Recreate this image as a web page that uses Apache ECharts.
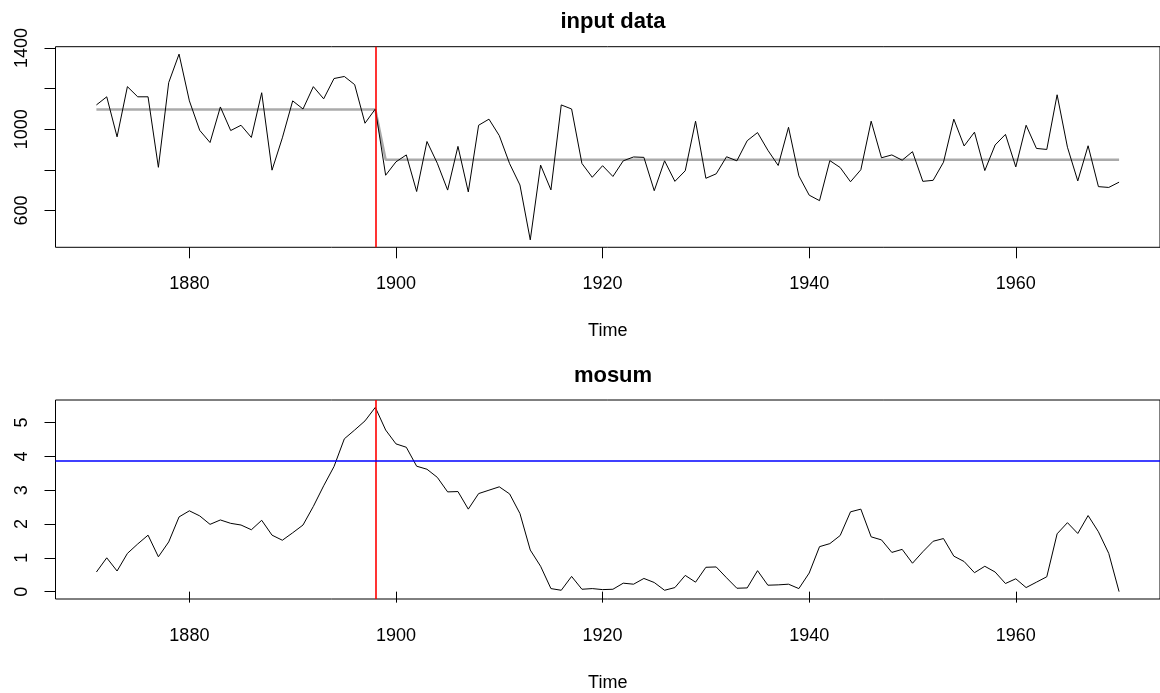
<!DOCTYPE html>
<html><head><meta charset="utf-8">
<script src="https://cdn.jsdelivr.net/npm/echarts@6/dist/echarts.min.js"></script>
<style>html,body{margin:0;padding:0;background:#fff}#c{width:1160px;height:693px}</style>
</head><body><div id="c"></div>
<script>
const panelTitles = ['input data', 'mosum'];
const xAxisTitle = 'Time';
const firstYear = 1871;
const nile = [1120,1160,963,1210,1160,1160,813,1230,1370,1140,
  995,935,1110,994,1020,960,1180,799,958,1140,
  1100,1210,1150,1250,1260,1220,1030,1100,774,840,
  874,694,940,833,701,916,692,1020,1050,969,
  831,726,456,824,702,1120,1100,832,764,821,
  768,845,864,862,698,845,744,796,1040,759,
  781,865,845,944,984,897,822,1010,771,676,
  649,846,812,742,801,1040,860,874,848,890,
  744,749,838,1050,918,986,797,923,975,815,
  1020,906,901,1170,912,746,919,718,714,740];
const mosumStat = [0.58,1.00,0.61,1.13,1.41,1.67,1.03,1.47,2.21,2.39,
  2.24,1.99,2.12,2.02,1.97,1.83,2.11,1.67,1.52,1.74,
  1.97,2.52,3.13,3.70,4.52,4.78,5.05,5.45,4.78,4.37,
  4.27,3.71,3.62,3.38,2.95,2.96,2.44,2.90,3.00,3.10,
  2.89,2.31,1.23,0.75,0.09,0.04,0.45,0.07,0.09,0.06,
  0.07,0.25,0.22,0.39,0.27,0.04,0.12,0.48,0.28,0.72,
  0.73,0.41,0.10,0.11,0.62,0.19,0.20,0.22,0.09,0.55,
  1.33,1.42,1.66,2.36,2.44,1.62,1.53,1.16,1.25,0.84,
  1.18,1.49,1.57,1.05,0.89,0.56,0.75,0.58,0.24,0.38,
  0.12,0.28,0.44,1.71,2.04,1.72,2.25,1.77,1.13,0.00];
const segStartYears = [1871, 1899];
const segEndYears = [1898, 1970];
const segMeans = [1097.75, 849.97];
const changePointYear = 1898;
const criticalValue = 3.87;
const xTicks = [1880, 1900, 1920, 1940, 1960];
const topYTicks = [600, 800, 1000, 1200, 1400];
const topYLabels = [600, 1000, 1400];
const bottomYTicks = [0, 1, 2, 3, 4, 5];

const years = nile.map((_, i) => firstYear + i);
const nileData = years.map((y, i) => [y, nile[i]]);
const mosumData = years.map((y, i) => [y, mosumStat[i]]);
const fittedData = years.map(y => {
  let m = null;
  segStartYears.forEach((s, k) => { if (y >= s && y <= segEndYears[k]) m = segMeans[k]; });
  return [y, m];
});

const FONT = 'Liberation Sans';
const xMin = 1867.04, xMax = 1973.96;
const plain = v => String(v);
function xAxisDef(gi) {
  return {
    gridIndex: gi, type: 'value', min: xMin, max: xMax,
    name: xAxisTitle, nameLocation: 'middle', nameGap: 75,
    nameTextStyle: { fontFamily: FONT, fontSize: 18, color: '#000' },
    axisLine: { show: false },
    axisTick: { show: true, customValues: xTicks, length: 11, inside: false, lineStyle: { color: '#000', width: 1 } },
    axisLabel: { show: true, customValues: xTicks, formatter: plain, margin: 28, fontFamily: FONT, fontSize: 18, color: '#000' },
    splitLine: { show: false }
  };
}
function yAxisDef(gi, mn, mx, ticks, labels) {
  return {
    gridIndex: gi, type: 'value', min: mn, max: mx,
    axisLine: { show: false },
    axisTick: { show: true, customValues: ticks, length: 11, lineStyle: { color: '#000', width: 1 } },
    axisLabel: { show: true, customValues: labels, formatter: plain, rotate: 90, margin: 24, fontFamily: FONT, fontSize: 18, color: '#000' },
    splitLine: { show: false }
  };
}

const chart = echarts.init(document.getElementById('c'), null, { renderer: 'canvas' });
chart.setOption({
  animation: false,
  backgroundColor: '#fff',
  title: [
    { text: panelTitles[0], left: 608, top: 6, textAlign: 'center', textStyle: { fontFamily: FONT, fontSize: 22, fontWeight: 'bold', color: '#000' } },
    { text: panelTitles[1], left: 608, top: 360, textAlign: 'center', textStyle: { fontFamily: FONT, fontSize: 22, fontWeight: 'bold', color: '#000' } }
  ],
  grid: [
    { left: 55.5, top: 46.7, width: 1105.8, height: 200.6, show: true, borderColor: '#000', borderWidth: 1, backgroundColor: 'transparent', containLabel: false },
    { left: 55.5, top: 400, width: 1105.8, height: 200, show: true, borderColor: '#000', borderWidth: 1, backgroundColor: 'transparent', containLabel: false }
  ],
  xAxis: [xAxisDef(0), xAxisDef(1)],
  yAxis: [
    yAxisDef(0, 419.44, 1406.56, topYTicks, topYLabels),
    yAxisDef(1, -0.218, 5.668, bottomYTicks, bottomYTicks)
  ],
  series: [
    { type: 'line', xAxisIndex: 0, yAxisIndex: 0, data: nileData, symbol: 'none', lineStyle: { color: '#000', width: 1 }, z: 3,
      markLine: { silent: true, symbol: ['none', 'none'], label: { show: false }, lineStyle: { color: '#ff0000', width: 1.6, type: 'solid' }, data: [{ xAxis: changePointYear }] } },
    { type: 'line', xAxisIndex: 0, yAxisIndex: 0, data: fittedData, symbol: 'none', lineStyle: { color: '#aaaaaa', width: 2.5 }, z: 2 },
    { type: 'line', xAxisIndex: 1, yAxisIndex: 1, data: mosumData, symbol: 'none', lineStyle: { color: '#000', width: 1 }, z: 3,
      markLine: { silent: true, symbol: ['none', 'none'], label: { show: false }, data: [
        { xAxis: changePointYear, lineStyle: { color: '#ff0000', width: 1.6, type: 'solid' } },
        { yAxis: criticalValue, lineStyle: { color: '#0000ff', width: 1.6, type: 'solid' } }
      ] } }
  ]
});
</script></body></html>
